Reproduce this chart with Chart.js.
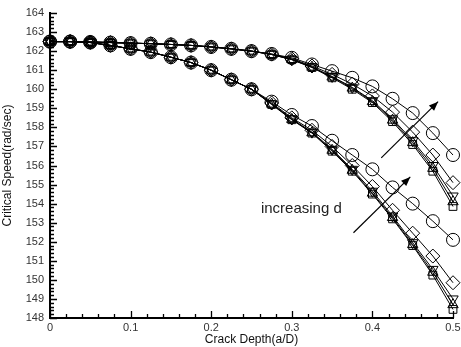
<!DOCTYPE html>
<html>
<head>
<meta charset="utf-8">
<script src="https://cdn.jsdelivr.net/npm/chart.js@4"></script>
<style>
  html, body { margin: 0; padding: 0; background: #fff; }
  #wrap { width: 461px; height: 347px; }
</style>
</head>
<body>
<div id="wrap"><canvas id="chart"></canvas></div>
<script>
// crack depth a/D
const crackDepth = [0, 0.025, 0.05, 0.075, 0.1, 0.125, 0.15, 0.175, 0.2, 0.225, 0.25,
                    0.275, 0.3, 0.325, 0.35, 0.375, 0.4, 0.425, 0.45, 0.475, 0.5];

// upper group
const upperCircle  = [162.5, 162.5, 162.48, 162.45, 162.42, 162.39, 162.35, 162.3, 162.22, 162.12, 162.0,
                      161.85, 161.65, 161.3, 160.95, 160.6, 160.15, 159.5, 158.75, 157.7, 156.55];
const upperDiamond = [162.5, 162.5, 162.48, 162.45, 162.42, 162.39, 162.35, 162.3, 162.22, 162.12, 162.0,
                      161.84, 161.6, 161.22, 160.78, 160.27, 159.65, 158.8, 157.75, 156.55, 155.1];
const upperTriDown = [162.5, 162.5, 162.48, 162.45, 162.42, 162.39, 162.35, 162.3, 162.22, 162.12, 162.0,
                      161.83, 161.57, 161.17, 160.67, 160.1, 159.4, 158.45, 157.3, 156.0, 154.4];
const upperTriUp   = [162.5, 162.5, 162.48, 162.45, 162.42, 162.39, 162.35, 162.3, 162.22, 162.12, 162.0,
                      161.82, 161.56, 161.16, 160.64, 160.06, 159.35, 158.38, 157.2, 155.85, 154.1];
const upperSquare  = [162.5, 162.5, 162.48, 162.45, 162.42, 162.39, 162.35, 162.3, 162.22, 162.12, 162.0,
                      161.82, 161.55, 161.14, 160.6, 160.0, 159.3, 158.3, 157.1, 155.7, 153.85];

// lower group
const lowerCircle  = [162.5, 162.5, 162.45, 162.3, 162.12, 161.95, 161.68, 161.4, 161.0, 160.5, 160.0,
                      159.35, 158.65, 158.07, 157.3, 156.55, 155.8, 154.85, 154.0, 153.08, 152.1];
const lowerDiamond = [162.5, 162.5, 162.45, 162.3, 162.12, 161.95, 161.68, 161.4, 161.0, 160.5, 160.0,
                      159.28, 158.5, 157.85, 157.0, 156.0, 154.9, 153.65, 152.45, 151.25, 149.85];
const lowerTriDown = [162.5, 162.5, 162.45, 162.3, 162.12, 161.95, 161.68, 161.4, 161.0, 160.5, 160.0,
                      159.23, 158.45, 157.75, 156.85, 155.8, 154.65, 153.35, 151.95, 150.55, 149.0];
const lowerTriUp   = [162.5, 162.5, 162.45, 162.3, 162.12, 161.95, 161.68, 161.4, 161.0, 160.5, 160.0,
                      159.22, 158.42, 157.72, 156.8, 155.75, 154.55, 153.27, 151.85, 150.4, 148.7];
const lowerSquare  = [162.5, 162.5, 162.45, 162.3, 162.12, 161.95, 161.68, 161.4, 161.0, 160.5, 160.0,
                      159.2, 158.4, 157.7, 156.75, 155.7, 154.5, 153.2, 151.8, 150.25, 148.45];

const xTicks = [0, 0.1, 0.2, 0.3, 0.4, 0.5];

// annotation arrows in data units: [x0, y0, x1, y1]
const arrows = [
    [0.411, 156.4, 0.4815, 159.35],
    [0.3765, 152.47, 0.447, 155.4]
];
const labelText = 'increasing d';
const labelPos = [0.2617, 153.73];

const TEXT = '#333';
const FONT = '"Liberation Sans", Arial, sans-serif';

function series(data, style, rotation, radius) {
    return {
        data: crackDepth.map((x, i) => ({ x: x, y: data[i] })),
        showLine: true,
        clip: false,
        borderColor: '#000',
        borderWidth: 1,
        backgroundColor: 'rgba(0,0,0,0)',
        pointBorderColor: '#000',
        pointBorderWidth: 1,
        pointStyle: style,
        rotation: rotation || 0,
        pointRadius: radius,
        tension: 0
    };
}

const insideTicks = {
    id: 'insideTicks',
    afterDraw(chart) {
        const ctx = chart.ctx;
        const xs = chart.scales.x, ys = chart.scales.y;
        const bottom = ys.getPixelForValue(148);
        const left = xs.getPixelForValue(0);
        ctx.save();
        ctx.strokeStyle = '#000';
        ctx.lineWidth = 1.3;
        ctx.beginPath();
        for (let i = 0; i <= 25; i++) {
            const px = Math.round(xs.getPixelForValue(i * 0.02)) + 0.5;
            const len = i % 5 === 0 ? 7 : 4;
            ctx.moveTo(px, bottom);
            ctx.lineTo(px, bottom - len);
        }
        for (let i = 0; i <= 80; i++) {
            const py = Math.round(ys.getPixelForValue(148 + i * 0.2)) + 0.5;
            const len = i % 5 === 0 ? 7 : 4;
            ctx.moveTo(left, py);
            ctx.lineTo(left + len, py);
        }
        ctx.stroke();

        // arrows
        ctx.lineWidth = 1.2;
        arrows.forEach(a => {
            const x0 = xs.getPixelForValue(a[0]), y0 = ys.getPixelForValue(a[1]);
            const x1 = xs.getPixelForValue(a[2]), y1 = ys.getPixelForValue(a[3]);
            ctx.beginPath();
            ctx.moveTo(x0, y0);
            ctx.lineTo(x1, y1);
            ctx.stroke();
            const ang = Math.atan2(y1 - y0, x1 - x0);
            const h = 10, w = 0.38;
            ctx.beginPath();
            ctx.moveTo(x1, y1);
            ctx.lineTo(x1 - h * Math.cos(ang - w), y1 - h * Math.sin(ang - w));
            ctx.lineTo(x1 - h * Math.cos(ang + w), y1 - h * Math.sin(ang + w));
            ctx.closePath();
            ctx.fillStyle = '#000';
            ctx.fill();
        });

        ctx.fillStyle = '#222';
        ctx.font = '15px ' + FONT;
        ctx.textBaseline = 'middle';
        ctx.fillText(labelText, xs.getPixelForValue(labelPos[0]), ys.getPixelForValue(labelPos[1]));
        ctx.restore();
    }
};

new Chart(document.getElementById('chart'), {
    type: 'scatter',
    data: {
        datasets: [
            series(upperCircle, 'circle', 0, 6.5),
            series(upperDiamond, 'rectRot', 0, 7),
            series(upperTriDown, 'triangle', 180, 6),
            series(upperTriUp, 'triangle', 0, 6),
            series(upperSquare, 'rect', 0, 5.5),
            series(lowerCircle, 'circle', 0, 6.5),
            series(lowerDiamond, 'rectRot', 0, 7),
            series(lowerTriDown, 'triangle', 180, 6),
            series(lowerTriUp, 'triangle', 0, 6),
            series(lowerSquare, 'rect', 0, 5.5)
        ]
    },
    options: {
        responsive: true,
        maintainAspectRatio: false,
        animation: false,
        layout: { padding: { top: 13, right: 6, left: 0, bottom: 0 } },
        plugins: { legend: { display: false }, tooltip: { enabled: false } },
        scales: {
            x: {
                type: 'linear',
                min: 0,
                max: 0.5,
                afterBuildTicks: (scale) => { scale.ticks = xTicks.map(v => ({ value: v })); },
                afterFit: (scale) => {
                    scale.height = 29;
                    scale.paddingRight = 0;
                    scale.paddingLeft = 0;
                },
                grid: { display: false, drawTicks: false },
                border: { display: true, color: '#000', width: 2 },
                ticks: {
                    color: TEXT,
                    padding: 3,
                    maxRotation: 0,
                    font: { family: FONT, size: 11 },
                    callback: (v) => String(+v.toFixed(1))
                },
                title: {
                    display: true,
                    text: 'Crack Depth(a/D)',
                    color: '#111',
                    padding: { top: 0, bottom: 0 },
                    font: { family: FONT, size: 12 }
                }
            },
            y: {
                min: 148,
                max: 164,
                afterFit: (scale) => { scale.width = 50; },
                grid: { display: false, drawTicks: false },
                border: { display: true, color: '#000', width: 2 },
                ticks: {
                    stepSize: 1,
                    color: TEXT,
                    padding: 6,
                    font: { family: FONT, size: 11 }
                },
                title: {
                    display: true,
                    text: 'Critical Speed(rad/sec)',
                    color: '#111',
                    padding: { top: 0, bottom: 0 },
                    font: { family: FONT, size: 12 }
                }
            }
        }
    },
    plugins: [insideTicks]
});
</script>
</body>
</html>
